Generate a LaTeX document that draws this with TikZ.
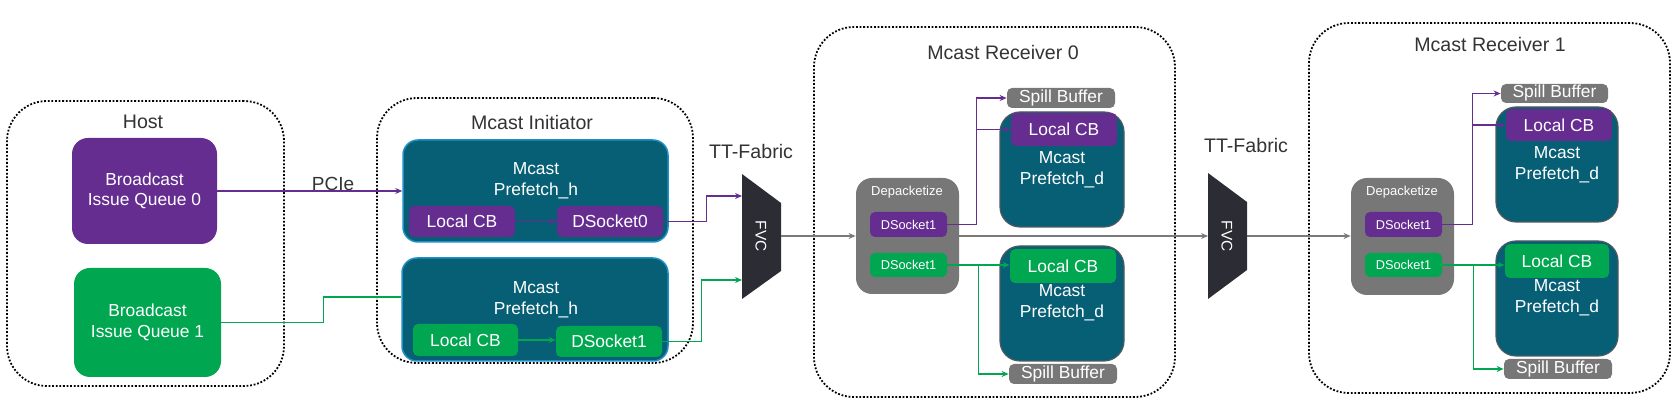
\documentclass[tikz,border=0pt]{standalone}
\usepackage{fontspec}
\setmainfont{Liberation Sans}
\usetikzlibrary{arrows.meta,calc}
\definecolor{cpurple}{HTML}{662D91}
\definecolor{cgreen}{HTML}{00A650}
\definecolor{cteal}{HTML}{065F74}
\definecolor{cblue}{HTML}{1E90C8}
\definecolor{cgray}{HTML}{777777}
\definecolor{cdark}{HTML}{2C2C34}
\definecolor{ctext}{HTML}{333333}
\definecolor{cline}{HTML}{7A7A7A}
\definecolor{cpdb}{HTML}{4E5A60}
\begin{document}
\begin{tikzpicture}[x=0.5pt,y=-0.5pt,
  container/.style={draw=black, line width=0.9pt, dash pattern=on 0.9pt off 0.9pt, rounded corners=20pt, inner sep=0pt},
  title/.style={text=ctext, font=\fontsize{9.8}{11}\selectfont, inner sep=0pt},
  queue/.style={rounded corners=8pt, inner sep=0pt, text=white, align=center, font=\fontsize{8.7}{10.2}\selectfont},
  pfh/.style={fill=cteal, draw=cblue, line width=0.75pt, rounded corners=7.5pt, inner sep=0pt},
  pfd/.style={fill=cteal, draw=cpdb, line width=0.6pt, rounded corners=10pt, inner sep=0pt},
  pftext/.style={text=white, align=center, font=\fontsize{8.7}{10.5}\selectfont, inner sep=0pt},
  small/.style={rounded corners=2.5pt, inner sep=0pt, text=white, font=\fontsize{8.7}{10}\selectfont},
  tiny/.style={rounded corners=2.5pt, inner sep=0pt, text=white, font=\fontsize{6.4}{7}\selectfont, minimum width=38.5pt},
  depk/.style={fill=cgray, rounded corners=8pt, inner sep=0pt, minimum width=51.5pt},
  pline/.style={draw=cpurple, line width=0.9pt, -{Stealth[length=3.5pt,width=3pt]}},
  gline/.style={draw=cgreen, line width=0.9pt},
  garrow/.style={draw=cgreen, line width=0.9pt, -{Stealth[length=3.5pt,width=3pt]}},
  grayarrow/.style={draw=cline, line width=0.9pt, -{Stealth[length=3.5pt,width=3pt]}}
]
\useasboundingbox (0,0) rectangle (1672,400);

% ---------- Host ----------
\node[container, minimum width=138.5pt, minimum height=142.5pt] (Host) at (145.5,243.5) {};
\node[title] (HostT) at (143,122) {Host};
\node[queue, fill=cpurple, minimum width=72.5pt, minimum height=53pt] (BIQ0) at (144.5,191) {Broadcast\\Issue Queue 0};
\node[queue, fill=cgreen, minimum width=73.5pt, minimum height=54.5pt] (BIQ1) at (147.5,322.5) {Broadcast\\Issue Queue 1};

% ---------- Mcast Initiator ----------
\node[container, minimum width=158pt, minimum height=132.5pt] (Init) at (535,230.5) {};
\node[title] (InitT) at (532,122) {Mcast Initiator};
\node[pfh, minimum width=132.5pt, minimum height=51pt] (PH1) at (535.5,191) {};
\node[pftext] (PH1t) at (536,180.5) {Mcast\\Prefetch\_h};
\node[small, fill=cpurple, minimum width=53pt, minimum height=15.5pt] (LCB1) at (462,221.5) {Local CB};
\node[small, fill=cpurple, minimum width=53pt, minimum height=15.5pt] (DS0) at (610,221.5) {DSocket0};
\node[pfh, minimum width=133pt, minimum height=51.5pt] (PH2) at (535,309.5) {};
\node[pftext] (PH2t) at (536,299.5) {Mcast\\Prefetch\_h};
\node[small, fill=cgreen, minimum width=52.5pt, minimum height=16pt] (LCB2) at (465.5,340) {Local CB};
\node[small, fill=cgreen, minimum width=53pt, minimum height=15.5pt] (DS1) at (609,341.5) {DSocket1};

% ---------- FVC 1 ----------
\node[title] (TT1) at (751,151) {TT-Fabric};
\fill[cdark] (742,174) -- (781,203) -- (781,271) -- (742,299) -- cycle;
\node[text=white, rotate=-90, font=\fontsize{7.7}{8}\selectfont, inner sep=0pt] (FVC1) at (761,236) {FVC};
\coordinate (F1a) at (742,196);
\coordinate (F1b) at (742,280);
\coordinate (F1out) at (781,236);

% ---------- Mcast Receiver 0 ----------
\node[container, minimum width=180.5pt, minimum height=185pt] (Rec0) at (994.5,212) {};
\node[title] (Rec0T) at (1003,52) {Mcast Receiver 0};
\node[depk, minimum height=58pt] (Dep0) at (907.5,236) {};
\node[text=white, font=\fontsize{6.5}{7}\selectfont, inner sep=0pt] (Dep0T) at (907,192) {Depacketize};
\node[tiny, fill=cpurple, minimum height=12.5pt] (D0P) at (908.5,224.5) {DSocket1};
\node[tiny, fill=cgreen, minimum height=12pt] (D0G) at (908.5,265) {DSocket1};
\node[small, fill=cgray, minimum width=54pt, minimum height=10pt] (SB0T) at (1061,98) {Spill Buffer};
\node[pfd, minimum width=62pt, minimum height=57.5pt] (PD0T) at (1062,169.5) {};
\node[small, fill=cpurple, minimum width=53pt, minimum height=16.5pt] (LC0T) at (1064,129.5) {Local CB};
\node[pftext] (PD0Tt) at (1062,169.5) {Mcast\\Prefetch\_d};
\node[pfd, minimum width=62pt, minimum height=57.5pt] (PD0B) at (1062,303.5) {};
\node[small, fill=cgreen, minimum width=53pt, minimum height=17pt] (LC0B) at (1063,266) {Local CB};
\node[pftext] (PD0Bt) at (1062,303) {Mcast\\Prefetch\_d};
\node[small, fill=cgray, minimum width=54pt, minimum height=10pt] (SB0B) at (1063,374) {Spill Buffer};

% ---------- FVC 2 ----------
\node[title] (TT2) at (1246,145) {TT-Fabric};
\fill[cdark] (1208,173) -- (1247,202) -- (1247,270) -- (1208,299) -- cycle;
\node[text=white, rotate=-90, font=\fontsize{7.7}{8}\selectfont, inner sep=0pt] (FVC2) at (1227,236) {FVC};
\coordinate (F2in) at (1208,236);
\coordinate (F2out) at (1247,236);

% ---------- Mcast Receiver 1 ----------
\node[container, minimum width=180.5pt, minimum height=185pt] (Rec1) at (1489.5,208) {};
\node[title] (Rec1T) at (1490,44) {Mcast Receiver 1};
\node[depk, minimum height=58.5pt] (Dep1) at (1402.5,236.5) {};
\node[text=white, font=\fontsize{6.5}{7}\selectfont, inner sep=0pt] (Dep1T) at (1402,192) {Depacketize};
\node[tiny, fill=cpurple, minimum height=12.5pt] (D1P) at (1403.5,224.5) {DSocket1};
\node[tiny, fill=cgreen, minimum height=12pt] (D1G) at (1403.5,265) {DSocket1};
\node[small, fill=cgray, minimum width=53.5pt, minimum height=9.5pt] (SB1T) at (1554.5,93.5) {Spill Buffer};
\node[pfd, minimum width=61pt, minimum height=57.5pt] (PD1T) at (1557,164.5) {};
\node[small, fill=cpurple, minimum width=53pt, minimum height=16pt] (LC1T) at (1559,125) {Local CB};
\node[pftext] (PD1Tt) at (1557,164.5) {Mcast\\Prefetch\_d};
\node[pfd, minimum width=61pt, minimum height=57.5pt] (PD1B) at (1557,298.5) {};
\node[small, fill=cgreen, minimum width=52pt, minimum height=17pt] (LC1B) at (1557,261) {Local CB};
\node[pftext] (PD1Bt) at (1557,297.5) {Mcast\\Prefetch\_d};
\node[small, fill=cgray, minimum width=54pt, minimum height=10pt] (SB1B) at (1558,369) {Spill Buffer};

% ---------- connectors ----------
\coordinate (g1) at (0,297);
\draw[pline] (BIQ0.east) -- (PH1.west);
\node[text=ctext, font=\fontsize{9.5}{10}\selectfont, inner sep=0pt, anchor=base] (PCIe) at (333,191) {PCIe};
\draw[gline] (BIQ1.east) -- ++(102,0) |- (PH2.west |- g1);
\draw[pline] (LCB1.east) -- (DS0.west);
\draw[garrow] (LCB2.east) -- (LCB2.east -| DS1.west);
\draw[pline] (DS0.east) -- ++(43,0) |- (F1a);
\draw[garrow] (DS1.east) -- ++(39,0) |- (F1b);
\draw[grayarrow] (F1out) -- (Dep0.west);
\draw[grayarrow] (Dep0.east) -- (F2in);
\draw[grayarrow] (F2out) -- (F2out -| Dep1.west);

\draw[pline] (D0P.east) -- ++(29,0) coordinate (j0p) |- (SB0T.west);
\draw[pline] (j0p |- LC0T.west) -- (LC0T.west);
\draw[garrow] (D0G.east) -- ++(31,0) coordinate (j0g) |- (SB0B.west);
\draw[garrow] (j0g) -- (j0g -| LC0B.west);

\draw[pline] (D1P.east) -- ++(30,0) coordinate (j1p) |- (SB1T.west);
\draw[pline] (j1p |- LC1T.west) -- (LC1T.west);
\draw[garrow] (D1G.east) -- ++(31,0) coordinate (j1g) |- (SB1B.west);
\draw[garrow] (j1g) -- (j1g -| LC1B.west);
\end{tikzpicture}
\end{document}
